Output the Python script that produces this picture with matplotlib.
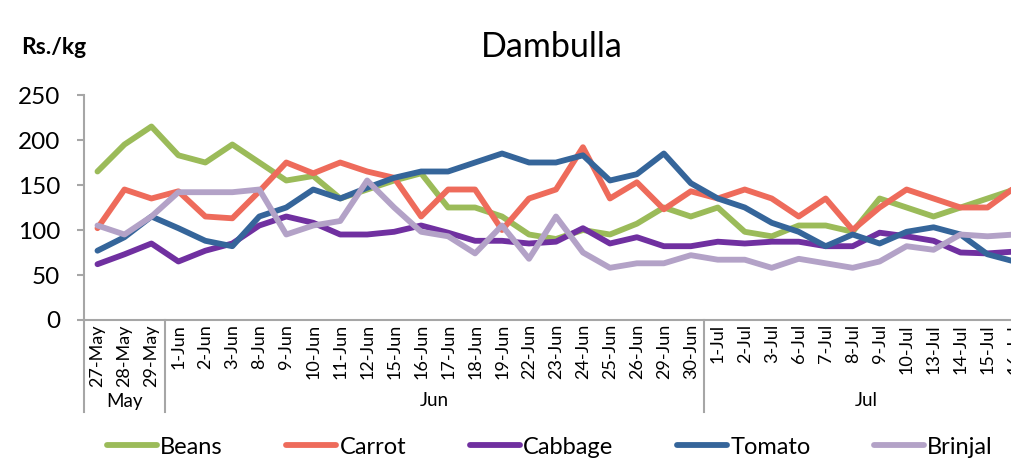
import matplotlib
matplotlib.use("Agg")
import matplotlib.pyplot as plt

categories = ['27-May', '28-May', '29-May', '1-Jun', '2-Jun', '3-Jun', '8-Jun', '9-Jun',
              '10-Jun', '11-Jun', '12-Jun', '15-Jun', '16-Jun', '17-Jun', '18-Jun', '19-Jun',
              '22-Jun', '23-Jun', '24-Jun', '25-Jun', '26-Jun', '29-Jun', '30-Jun', '1-Jul',
              '2-Jul', '3-Jul', '6-Jul', '7-Jul', '8-Jul', '9-Jul', '10-Jul', '13-Jul',
              '14-Jul', '15-Jul', '16-Jul']
months = ['May', 'Jun', 'Jul']
month_counts = [3, 20, 12]

beans = [165, 195, 215, 183, 175, 195, 175, 155, 160, 135, 145, 155, 163, 125, 125, 115, 95, 90,
         100, 95, 107, 125, 115, 125, 98, 93, 105, 105, 98, 135, 125, 115, 125, 135, 145]
carrot = [102, 145, 135, 143, 115, 113, 143, 175, 163, 175, 165, 158, 115, 145, 145, 100, 135, 145,
          192, 135, 153, 123, 143, 135, 145, 135, 115, 135, 100, 125, 145, 135, 125, 125, 147]
cabbage = [62, 73, 85, 65, 77, 85, 105, 115, 108, 95, 95, 98, 105, 97, 88, 88, 85, 87,
           102, 85, 92, 82, 82, 87, 85, 87, 87, 82, 82, 97, 93, 88, 75, 74, 76]
tomato = [77, 92, 115, 102, 88, 82, 115, 125, 145, 135, 147, 158, 165, 165, 175, 185, 175, 175,
          183, 155, 162, 185, 152, 135, 125, 108, 98, 82, 95, 85, 98, 103, 95, 73, 65]
brinjal = [105, 95, 115, 142, 142, 142, 145, 95, 105, 110, 155, 125, 98, 93, 74, 105, 68, 115,
           75, 58, 63, 63, 72, 67, 67, 58, 68, 63, 58, 65, 82, 78, 95, 93, 95]

series_names = ['Beans', 'Carrot', 'Cabbage', 'Tomato', 'Brinjal']
series_values = [beans, carrot, cabbage, tomato, brinjal]
colors = ['#9BBB59', '#EE6B5B', '#7030A0', '#35659A', '#B3A2C7']

plt.rcParams['font.family'] = ['Lato', 'DejaVu Sans']
W, H = 1012, 465
fig = plt.figure(figsize=(W / 100, H / 100), dpi=100)

n = len(categories)
step = 26.97
left_px, top_px, bottom_px = 84, 95, 320
ax = fig.add_axes([left_px / W, (H - bottom_px) / H, n * step / W, (bottom_px - top_px) / H])

x = list(range(n))
for name, vals, c in zip(series_names, series_values, colors):
    ax.plot(x, vals, color=c, lw=4.2, label=name, solid_joinstyle='round', solid_capstyle='round')

ax.set_xlim(-0.5, n - 0.5)
ax.set_ylim(0, 250)
ax.set_yticks([0, 50, 100, 150, 200, 250])
grey = '#A6A6A6'
for s in ['top', 'right']:
    ax.spines[s].set_visible(False)
for s in ['left', 'bottom']:
    ax.spines[s].set_color(grey)
    ax.spines[s].set_linewidth(1.5)
ax.tick_params(axis='y', direction='out', length=5, width=1.5, color=grey, pad=12, labelsize=17.5)
ax.set_xticks(x)
ax.set_xticklabels(categories, rotation=90, fontsize=13)
ax.tick_params(axis='x', length=0, pad=3)

# group separators and month labels
tr = ax.get_xaxis_transform()
ext = -(412 - bottom_px) / (bottom_px - top_px)
lab_y = -(401 - bottom_px) / (bottom_px - top_px)
start = 0
ax.plot([-0.5, -0.5], [0, ext], color=grey, lw=1.5, transform=tr, clip_on=False)
for m, cnt in zip(months, month_counts):
    end = start + cnt
    ax.plot([end - 0.5, end - 0.5], [0, ext], color=grey, lw=1.5, transform=tr, clip_on=False)
    ax.text((start + end - 1) / 2, lab_y, m, transform=tr, ha='center', va='center', fontsize=13.5)
    start = end

fig.text(552 / W, 1 - 47 / H, 'Dambulla', ha='center', va='center', fontsize=24.5)
fig.text(54 / W, 1 - 47 / H, 'Rs./kg', ha='center', va='center', fontsize=16.5, fontweight='bold')

fig.legend(loc='center', bbox_to_anchor=(550 / W, 1 - 447 / H), ncol=5, frameon=False,
           fontsize=17, handlelength=2.1, handletextpad=0.15, columnspacing=2.7)

fig.savefig('out.png', dpi=100)
